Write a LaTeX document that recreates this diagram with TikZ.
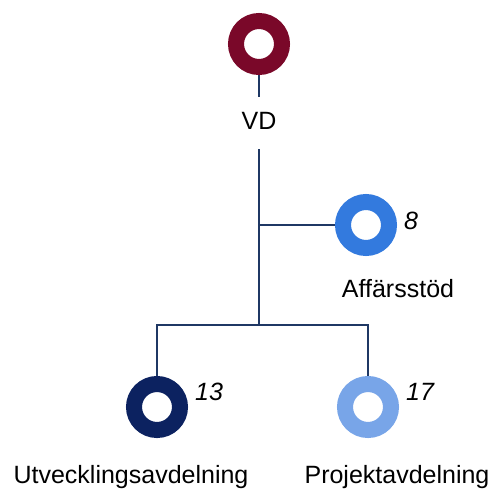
\documentclass[tikz,border=0pt]{standalone}
\usepackage{fontspec}
\setmainfont{Liberation Sans}
\usepackage{tikz}
\usetikzlibrary{positioning, shapes}
\definecolor{vdred}{RGB}{122,8,41}
\definecolor{affblue}{RGB}{51,122,222}
\definecolor{utvnavy}{RGB}{12,34,96}
\definecolor{projblue}{RGB}{120,165,232}
\definecolor{linenavy}{RGB}{31,56,100}
\tikzstyle{ring} = [circle, line width=16pt, minimum size=46pt, inner sep=0pt, fill=white]
\tikzstyle{unit} = [text height=17pt, text depth=5pt, inner sep=2pt, font=\fontsize{25}{29}\selectfont]
\tikzstyle{num} = [inner sep=2pt, font=\fontsize{25}{29}\selectfont\itshape]
\tikzstyle{connect} = [line width=1.6pt, draw=linenavy, -]

\begin{document}
\begin{tikzpicture}
            \useasboundingbox (0,0) rectangle (492pt,-488pt);
            \node (vd) [ring, draw=vdred] at (259pt,-44pt) {};
            \node (vdlab) [unit, inner ysep=15pt, below of=vd, node distance=79pt] {VD};
            \node (aff) [ring, draw=affblue, below of=vdlab, node distance=102pt, xshift=107pt] {};
            \node (afflab) [unit, below of=aff, node distance=66pt, xshift=32pt] {Affärsstöd};
            \node (split) [coordinate, below of=vdlab, node distance=202pt] {};
            \node (utv) [ring, draw=utvnavy, below of=split, node distance=82pt, xshift=-102pt] {};
            \node (proj) [ring, draw=projblue, below of=split, node distance=82pt, xshift=109pt] {};
            \node (utvlab) [unit, below of=utv, node distance=70pt, xshift=-26pt] {Utvecklingsavdelning};
            \node (projlab) [unit, below of=proj, node distance=70pt, xshift=29pt] {Projektavdelning};
            \node (affnum) [num, right=5pt of aff, yshift=4pt] {8};
            \node (utvnum) [num, right=5pt of utv, yshift=15pt] {13};
            \node (projnum) [num, right=5pt of proj, yshift=15pt] {17};
            \node (affjoin) [coordinate] at (vdlab.south |- aff.west) {};

            \draw [connect] (vd) -- (vdlab);
            \draw [connect] (vdlab) -- (split);
            \draw [connect] (affjoin) -- (aff);
            \draw [connect] (split) -| (utv);
            \draw [connect] (split) -| (proj);

        \end{tikzpicture}
\end{document}
